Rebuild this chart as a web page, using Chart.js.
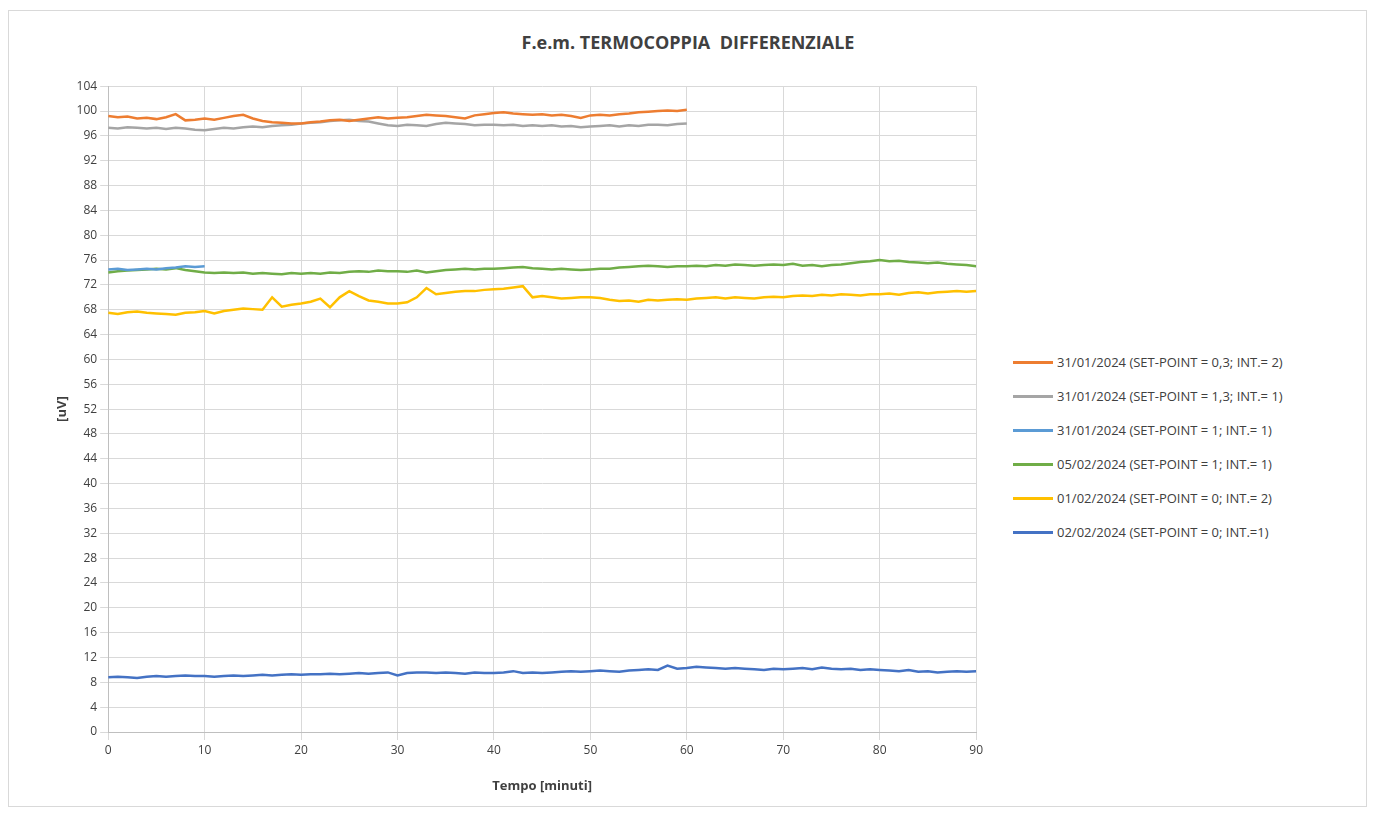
<!DOCTYPE html>
<html>
<head>
<meta charset="utf-8">
<script src="https://cdn.jsdelivr.net/npm/chart.js@4"></script>
<style>
  body { margin: 0; background: #fff; }
  #frame { position: absolute; left: 8px; top: 10px; width: 1357px; height: 795px; border: 1px solid #d9d9d9; }
  #title { position: absolute; left: 0; width: 1376px; top: 30px; text-align: center; font: bold 18px "Open Sans", sans-serif; color: #404040; white-space: pre; }
  #wrap { position: absolute; left: 20px; top: 76px; width: 966px; height: 722px; }
  #legend { position: absolute; left: 1013px; top: 345px; font: 13px "Open Sans", sans-serif; color: #404040; }
  #legend div { height: 34px; line-height: 20px; display: flex; align-items: center; }
  #legend span { display: inline-block; width: 40px; height: 3px; margin-right: 4px; }
</style>
</head>
<body>
<div id="frame"></div>
<div id="title">F.e.m. TERMOCOPPIA  DIFFERENZIALE</div>
<div id="wrap"><canvas id="c"></canvas></div>
<div id="legend"></div>
<script>
const labels = [
  "31/01/2024 (SET-POINT = 0,3; INT.= 2)",
  "31/01/2024 (SET-POINT = 1,3; INT.= 1)",
  "31/01/2024 (SET-POINT = 1; INT.= 1)",
  "05/02/2024 (SET-POINT = 1; INT.= 1)",
  "01/02/2024 (SET-POINT = 0; INT.= 2)",
  "02/02/2024 (SET-POINT = 0; INT.=1)",
];
const colors = ["#ED7D31", "#A5A5A5", "#5B9BD5", "#70AD47", "#FFC000", "#4472C4"];

// values per minute, starting at minute 0
const orange = [99.2,99.0,99.1,98.8,98.9,98.7,99.0,99.5,98.5,98.6,98.8,98.6,98.9,99.2,99.4,98.8,98.4,98.2,98.1,98.0,98.0,98.2,98.3,98.5,98.6,98.4,98.6,98.8,99.0,98.8,98.9,99.0,99.2,99.4,99.3,99.2,99.0,98.8,99.3,99.5,99.7,99.8,99.6,99.5,99.4,99.5,99.3,99.4,99.2,98.9,99.3,99.4,99.3,99.5,99.6,99.8,99.9,100.0,100.1,100.0,100.2];
const gray = [97.3,97.2,97.4,97.3,97.2,97.3,97.1,97.3,97.2,97.0,96.9,97.1,97.3,97.2,97.4,97.5,97.4,97.6,97.7,97.8,98.0,98.1,98.2,98.4,98.5,98.6,98.4,98.3,98.0,97.7,97.6,97.8,97.7,97.6,97.9,98.1,98.0,97.9,97.7,97.8,97.8,97.7,97.8,97.6,97.7,97.6,97.7,97.5,97.6,97.4,97.5,97.6,97.7,97.5,97.7,97.6,97.8,97.8,97.7,97.9,98.0];
const lightBlue = [74.5,74.6,74.4,74.5,74.6,74.5,74.7,74.8,75.0,74.9,75.0];
const green = [74.0,74.2,74.3,74.4,74.5,74.6,74.5,74.7,74.4,74.2,
  74.0,73.9,74.0,73.9,74.0,73.8,73.9,73.8,73.7,73.9,
  73.8,73.9,73.8,74.0,73.9,74.1,74.2,74.1,74.3,74.2,
  74.2,74.1,74.3,74.0,74.2,74.4,74.5,74.6,74.5,74.6,
  74.6,74.7,74.8,74.9,74.7,74.6,74.5,74.6,74.5,74.4,
  74.5,74.6,74.6,74.8,74.9,75.0,75.1,75.0,74.9,75.0,
  75.0,75.1,75.0,75.2,75.1,75.3,75.2,75.1,75.2,75.3,
  75.2,75.4,75.1,75.2,75.0,75.2,75.3,75.5,75.7,75.8,
  76.0,75.8,75.9,75.7,75.6,75.5,75.6,75.4,75.3,75.2,75.0];
const yellow = [67.5,67.3,67.6,67.7,67.5,67.4,67.3,67.2,67.5,67.6,
  67.8,67.4,67.8,68.0,68.2,68.1,68.0,70.0,68.5,68.8,
  69.0,69.3,69.8,68.4,70.0,71.0,70.2,69.5,69.3,69.0,
  69.0,69.2,70.0,71.5,70.5,70.7,70.9,71.0,71.0,71.2,
  71.3,71.4,71.6,71.8,70.0,70.2,70.0,69.8,69.9,70.0,
  70.0,69.9,69.6,69.4,69.5,69.3,69.6,69.5,69.6,69.7,
  69.6,69.8,69.9,70.0,69.8,70.0,69.9,69.8,70.0,70.1,
  70.0,70.2,70.3,70.2,70.4,70.3,70.5,70.4,70.3,70.5,
  70.5,70.6,70.4,70.7,70.8,70.6,70.8,70.9,71.0,70.9,71.0];
const darkBlue = [8.8,8.9,8.8,8.7,8.9,9.0,8.9,9.0,9.1,9.0,
  9.0,8.9,9.0,9.1,9.0,9.1,9.2,9.1,9.2,9.3,
  9.2,9.3,9.3,9.4,9.3,9.4,9.5,9.4,9.5,9.6,
  9.1,9.5,9.6,9.6,9.5,9.6,9.5,9.4,9.6,9.5,
  9.5,9.6,9.8,9.5,9.6,9.5,9.6,9.7,9.8,9.7,
  9.8,9.9,9.8,9.7,9.9,10.0,10.1,10.0,10.7,10.2,
  10.3,10.5,10.4,10.3,10.2,10.3,10.2,10.1,10.0,10.2,
  10.1,10.2,10.3,10.1,10.4,10.2,10.1,10.2,10.0,10.1,
  10.0,9.9,9.8,10.0,9.7,9.8,9.6,9.7,9.8,9.7,9.8];

const series = [orange, gray, lightBlue, green, yellow, darkBlue];

const datasets = series.map((vals, i) => ({
  label: labels[i],
  data: vals.map((v, m) => ({ x: m, y: v })),
  borderColor: colors[i],
  borderWidth: 2.5,
  pointRadius: 0,
  tension: 0,
}));

const legend = document.getElementById("legend");
labels.forEach((l, i) => {
  legend.innerHTML += `<div><span style="background:${colors[i]}"></span>${l}</div>`;
});

const font = { family: "'Open Sans', sans-serif", size: 12 };
new Chart(document.getElementById("c"), {
  type: "line",
  data: { datasets },
  options: {
    responsive: true,
    maintainAspectRatio: false,
    animation: false,
    layout: { padding: { left: 30, right: 0, top: 10, bottom: 0 } },
    plugins: { legend: { display: false } },
    scales: {
      x: {
        type: "linear",
        min: 0,
        max: 90,
        ticks: { stepSize: 10, color: "#404040", font },
        grid: { color: "#d9d9d9" },
        border: { color: "#bfbfbf" },
        title: { display: true, text: "Tempo [minuti]", color: "#404040", padding: { top: 18, bottom: 4 }, font: { ...font, size: 13, weight: "bold" } },
      },
      y: {
        min: 0,
        max: 104,
        ticks: { stepSize: 4, color: "#404040", font },
        grid: { color: "#d9d9d9" },
        border: { color: "#bfbfbf" },
        title: { display: true, text: "[uV]", color: "#404040", font: { ...font, size: 13, weight: "bold" } },
      },
    },
  },
});
</script>
</body>
</html>
